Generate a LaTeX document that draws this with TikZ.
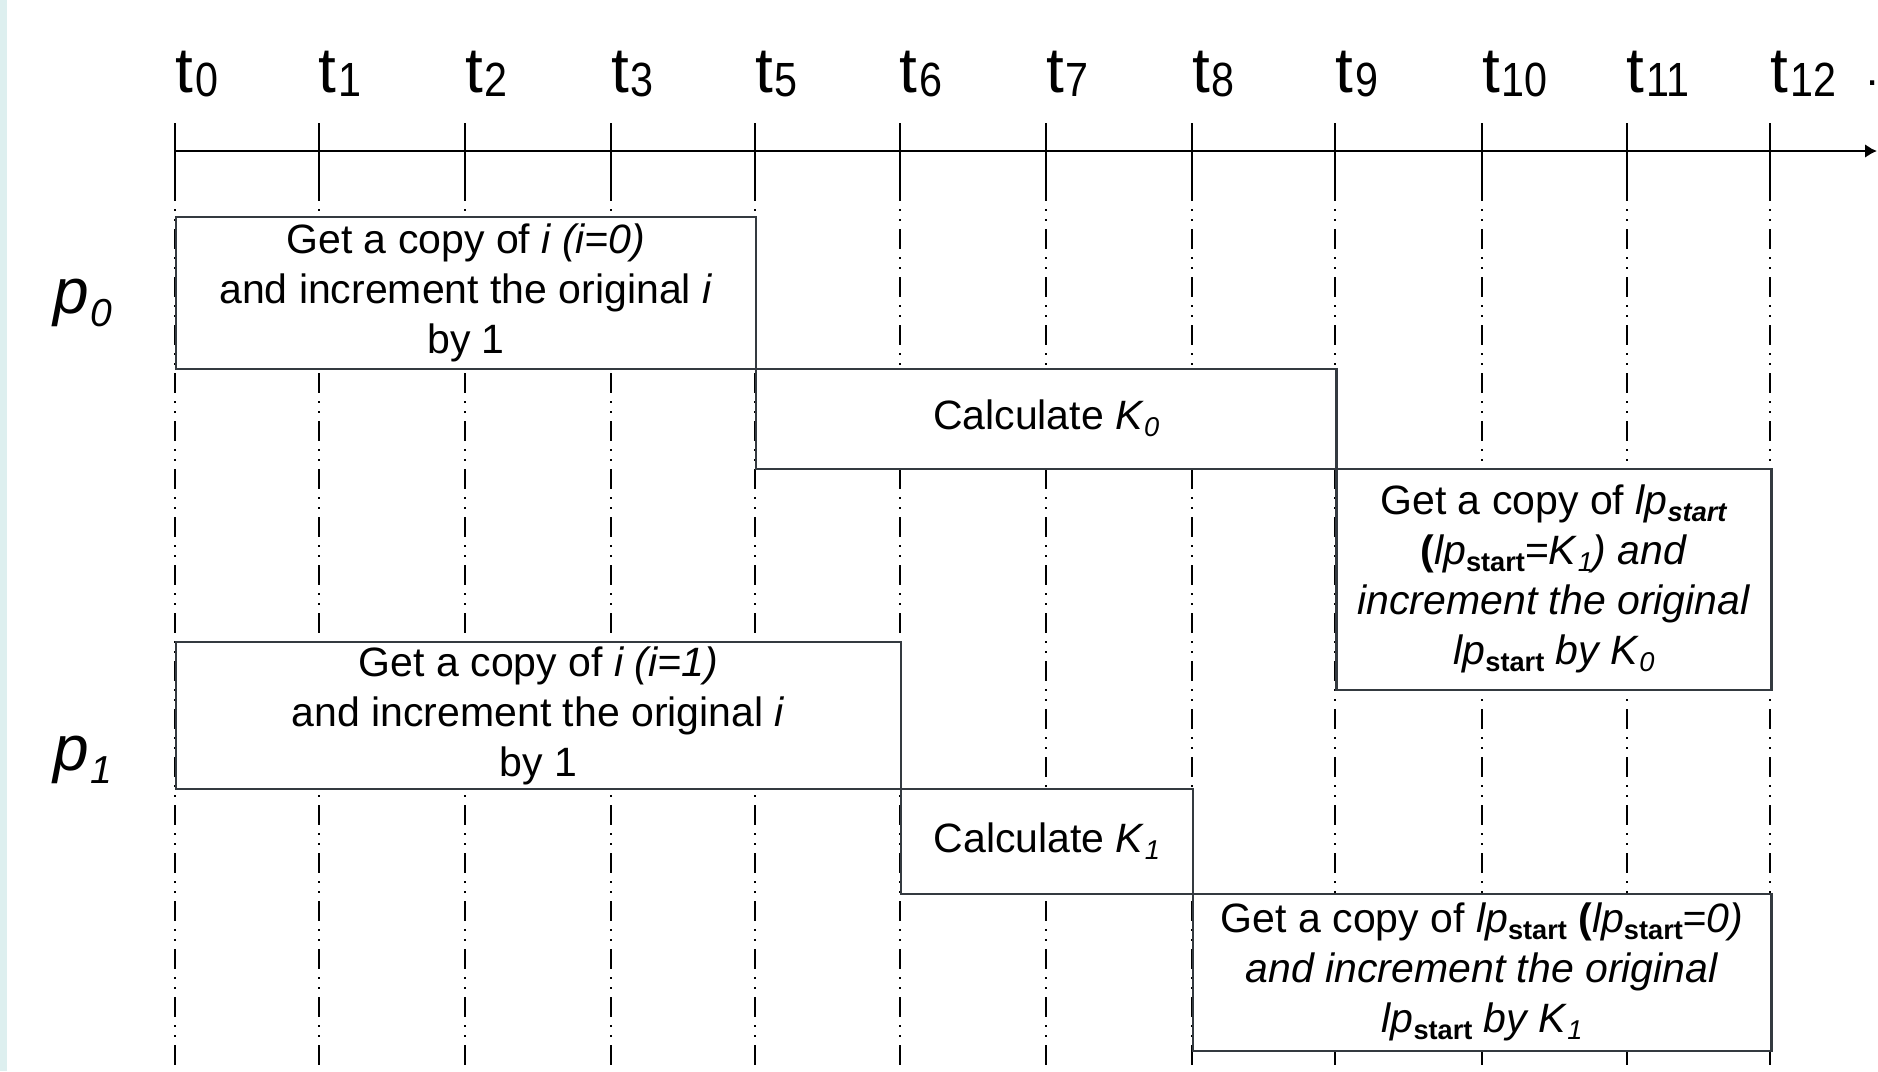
\documentclass[tikz,border=0pt]{standalone}
\usepackage{fontspec}
\setmainfont{Liberation Sans}
\usetikzlibrary{arrows.meta}

\definecolor{edgegray}{RGB}{52,58,64}
\definecolor{stripcyan}{RGB}{221,239,239}

% lowered subscript used inside the task boxes
\newcommand\dn[1]{\raisebox{-3.5pt}{\fontsize{13.6}{13.6}\selectfont #1}}
% time-step label t_n (narrow subscript digits)
\newcommand\tlab[1]{{\fontsize{32}{32}\selectfont t}\kern1pt\raisebox{-2.3pt}{\scalebox{0.86}[1]{\fontsize{24}{24}\selectfont #1}}}
% processor label p_n
\newcommand\plab[1]{{\fontsize{32}{32}\selectfont\itshape p}\kern1pt\raisebox{-6.5pt}{\fontsize{19.5}{19.5}\selectfont\itshape #1}}

\tikzset{
  gridline/.style={line width=1pt, dash pattern=on 10pt off 4pt on 1pt off 4pt on 1pt off 4pt},
  tickline/.style={line width=1pt},
  axisline/.style={line width=1.25pt, -{Latex[length=6pt,width=7pt]}},
  taskbox/.style={draw=edgegray, line width=1.15pt, fill=white, inner sep=0pt,
    align=center, anchor=north west, font=\fontsize{20.5}{25}\selectfont},
  lbl/.style={anchor=base west, inner sep=0pt},
}

\begin{document}
\begin{tikzpicture}[x=0.5pt, y=-0.5pt]
  \useasboundingbox (0,0) rectangle (1878,1071);
  \fill[white] (0,0) rectangle (1878,1071);
  \fill[stripcyan] (0,0) rectangle (6.7,1071);

  % time grid: ticks on the axis and dash-dot-dot guide lines
  \foreach \n/\x in {0/175,1/318.5,2/464.7,3/610.8,5/754.6,6/899.5,7/1045.6,
                     8/1191.7,9/1335.4,10/1481.6,11/1626.5,12/1770.4}{
    \coordinate (t\n) at (\x,151);
    \draw[gridline] (\x,181) -- (\x,1071);
    \draw[tickline] (\x,123) -- (\x,181);
    \node[lbl] (lt\n) at (\x,92) {\tlab{\n}};
  }
  \node[lbl, font=\fontsize{22}{22}\selectfont] (more) at (1866,85) {.};

  % time axis
  \coordinate (axisend) at (1877,151);
  \draw[axisline] (t0) -- (axisend);

  % processor labels
  \node[lbl] (p0) at (53,313) {\plab{0}};
  \node[lbl] (p1) at (53,770) {\plab{1}};

  % tasks of p0
  \node[taskbox, minimum width=289.8pt, minimum height=76.1pt] (A) at (175,215.5)
    {Get a copy of \textit{i (i=0)}\\and increment the original \textit{i}\\by 1};
  \node[taskbox, minimum width=290.4pt, minimum height=49.9pt] (B) at (754.6,367.7)
    {Calculate \textit{K}\dn{\textit{0}}};
  \node[taskbox, minimum width=217.4pt, minimum height=110.5pt] (C) at (1335.4,467.5)
    {Get a copy of \textit{lp}\dn{\textbf{\textit{start}}}\\
     \textbf{(}\textit{lp}\dn{\textbf{start}}=\textit{K}\dn{\textit{1}}\textit{) and}\\
     \textit{increment the original}\\
     \textit{lp}\dn{\textbf{start}} \textit{by K}\dn{\textit{0}}};

  % tasks of p1
  \node[taskbox, minimum width=362.25pt, minimum height=73.75pt] (D) at (175,640.5)
    {Get a copy of \textit{i (i=1)}\\and increment the original \textit{i}\\by 1};
  \node[taskbox, minimum width=146.1pt, minimum height=52.25pt] (E) at (899.5,788)
    {Calculate \textit{K}\dn{\textit{1}}};
  \node[taskbox, minimum width=289.25pt, minimum height=78.5pt] (F) at (1191.7,892.5)
    {Get a copy of \textit{lp}\dn{\textbf{start}} \textbf{(}\textit{lp}\dn{\textbf{start}}\textit{=0)}\\
     \textit{and increment the original}\\
     \textit{lp}\dn{\textbf{start}} \textit{by K}\dn{\textit{1}}};
\end{tikzpicture}
\end{document}
